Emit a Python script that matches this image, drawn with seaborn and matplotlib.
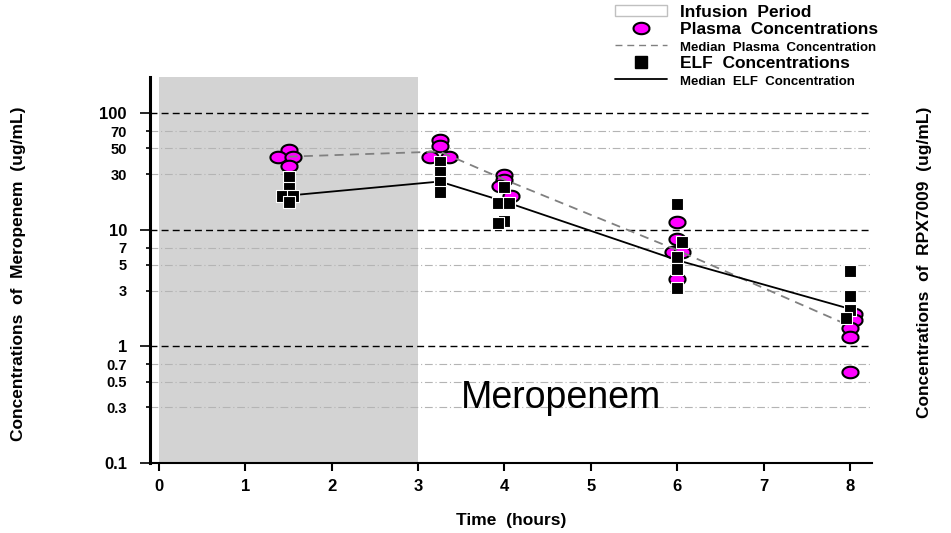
import numpy as np
import pandas as pd
import matplotlib
matplotlib.use("Agg")
import matplotlib.pyplot as plt
import seaborn as sns
from matplotlib.lines import Line2D
from matplotlib.patches import Patch

# plasma and ELF concentrations of meropenem (ug/mL)
plasma_time = [1.5, 1.38, 1.55, 1.5,
               3.25, 3.25, 3.14, 3.36,
               4.0, 4.0, 3.95, 4.08,
               6.0, 6.0, 5.95, 6.05, 6.0,
               8.05, 8.05, 8.0, 8.0, 8.0]
plasma_conc = [48, 42.5, 42.5, 35,
               59, 52, 42, 42,
               29.5, 27, 24, 19.5,
               11.6, 8.3, 6.4, 6.4, 3.8,
               1.9, 1.7, 1.45, 1.2, 0.6]
elf_time = [1.5, 1.5, 1.43, 1.55, 1.5,
            3.25, 3.25, 3.25, 3.25,
            4.0, 3.92, 4.05, 4.0, 3.92,
            6.0, 6.05, 6.0, 6.0, 6.0,
            8.0, 8.0, 8.0, 7.95]
elf_conc = [28.6, 23, 19.7, 19.7, 17.5,
            38, 31.6, 26, 21.3,
            23.5, 17.1, 17, 12, 11.5,
            16.8, 7.8, 5.8, 4.6, 3.2,
            4.4, 2.7, 2.07, 1.74]
median_time = [1.5, 3.25, 4, 6, 8]
plasma_median = [42.5, 47, 27, 6.7, 1.5]
elf_median = [19.7, 26, 17.5, 5.5, 2.1]

infusion = (0, 3)
major_ticks = [0.1, 1, 10, 100]
minor_ticks = [0.3, 0.5, 0.7, 3, 5, 7, 30, 50, 70]
x_ticks = list(range(0, 9))

legend_labels = ["Infusion  Period", "Plasma  Concentrations",
                 "Median  Plasma  Concentration", "ELF  Concentrations",
                 "Median  ELF  Concentration"]

sns.set_style("ticks")
plt.rcParams["font.family"] = ["Liberation Sans", "DejaVu Sans"]
plt.rcParams["font.weight"] = "bold"
for key in ("text.color", "axes.labelcolor", "xtick.color", "ytick.color",
            "axes.edgecolor"):
    plt.rcParams[key] = "black"

plasma_df = pd.DataFrame({"time": plasma_time, "conc": plasma_conc})
elf_df = pd.DataFrame({"time": elf_time, "conc": elf_conc})
median_df = pd.DataFrame({"time": median_time, "plasma": plasma_median, "elf": elf_median})

# ellipse marker (wider than tall, like the original)
th = np.linspace(0, 2 * np.pi, 60)
ellipse = np.column_stack([1.4 * np.cos(th), np.sin(th)])

fig = plt.figure(figsize=(9.51, 5.33), dpi=100)
ax = fig.add_axes([150 / 951, 1 - 463 / 533, 722 / 951, 386 / 533])

ax.axvspan(*infusion, color="#d3d3d3", zorder=0.2, lw=0)

sns.scatterplot(data=plasma_df, x="time", y="conc", ax=ax, marker=ellipse, s=135,
                color="#ff00ff", edgecolor="black", linewidth=1.5, zorder=3)
sns.lineplot(data=median_df, x="time", y="plasma", ax=ax, color="#808080",
             linestyle=(0, (5, 3.5)), linewidth=1.3, zorder=4)
sns.lineplot(data=median_df, x="time", y="elf", ax=ax, color="black",
             linewidth=1.3, zorder=4.5)
sns.scatterplot(data=elf_df, x="time", y="conc", ax=ax, marker="s", s=85,
                color="black", edgecolor="white", linewidth=0.8, zorder=5)

ax.set_yscale("log")
ax.set_ylim(0.1, 205)
ax.set_xlim(-0.104, 8.255)

ax.set_yticks(major_ticks)
ax.set_yticklabels([f"{v:g}" for v in major_ticks], fontsize=12, fontweight="bold")
ax.set_yticks(minor_ticks, minor=True)
ax.set_yticklabels([f"{v:g}" for v in minor_ticks], minor=True, fontsize=10.5,
                   fontweight="bold")
ax.tick_params(axis="y", which="major", length=7.2, width=1.2, pad=9.4)
ax.tick_params(axis="y", which="minor", length=2.9, width=1.2, pad=13.7)

ax.set_xticks(x_ticks)
ax.set_xticklabels([str(v) for v in x_ticks], fontsize=12, fontweight="bold")
ax.tick_params(axis="x", which="major", length=5.8, width=1.5, pad=6)

ax.grid(False)
ax.set_axisbelow(True)
ax.yaxis.grid(True, which="major", color="black", linestyle=(0, (5, 3)), linewidth=1.0)
ax.yaxis.grid(True, which="minor", color="#b4b4b4", linestyle=(0, (7, 2.5, 1, 2.5)),
              linewidth=0.8)

sns.despine(ax=ax)
ax.spines["left"].set_linewidth(2.2)
ax.spines["bottom"].set_linewidth(1.5)

ax.set_xlabel("Time  (hours)", fontsize=12.5, fontweight="bold")
ax.xaxis.set_label_coords(0.5, -0.13)
ax.set_ylabel("Concentrations  of  Meropenem  (ug/mL)", fontsize=12.5, fontweight="bold")
ax.yaxis.set_label_coords(-0.172, 0.49)
fig.text(925 / 951, 1 - 262 / 533, "Concentrations  of  RPX7009  (ug/mL)",
         rotation=90, ha="center", va="center", fontsize=12.5, fontweight="bold")

ax.text(4.65, 0.297, "Meropenem", fontsize=27, fontweight="normal",
        ha="center", va="baseline", color="black")

handles = [
    Patch(facecolor="white", edgecolor="#c0c0c0", linewidth=1.0),
    Line2D([], [], marker=ellipse, markersize=11.5, markerfacecolor="#ff00ff",
           markeredgecolor="black", markeredgewidth=1.5, linestyle="none"),
    Line2D([], [], color="#808080", linestyle=(0, (5, 3.5)), linewidth=1.0),
    Line2D([], [], marker="s", markersize=8, markerfacecolor="black",
           markeredgecolor="black", linestyle="none"),
    Line2D([], [], color="black", linewidth=1.3),
]
leg = fig.legend(handles, legend_labels, loc="upper left",
                 bbox_to_anchor=(615 / 951, 1 - 5 / 533), frameon=False,
                 borderpad=0, borderaxespad=0, handlelength=3.0, handleheight=0.6,
                 handletextpad=0.75, labelspacing=0.12,
                 prop={"size": 12.5, "weight": "bold"})
for i, t in enumerate(leg.get_texts()):
    t.set_color("black")
    if i in (2, 4):
        t.set_fontsize(9.5)

fig.savefig("out.png", dpi=100)
